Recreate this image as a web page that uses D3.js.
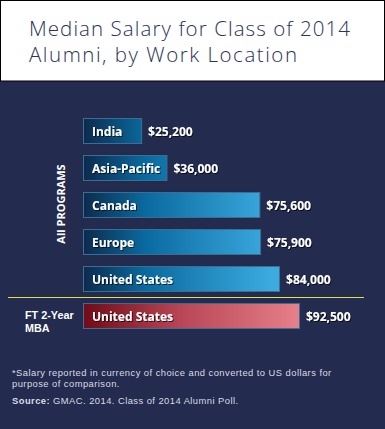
<!DOCTYPE html>
<html>
<head>
<meta charset="utf-8">
<script src="https://cdn.jsdelivr.net/npm/d3@7"></script>
<style>
  body { margin: 0; background: #232b4f; }
  svg { display: block; }
</style>
</head>
<body>
<div id="chart"></div>
<script>
const titleLines = ["Median Salary for Class of 2014", "Alumni, by Work Location"]
const regions = ["India", "Asia-Pacific", "Canada", "Europe", "United States", "United States"]
const salaries = [25200, 36000, 75600, 75900, 84000, 92500]
const groups = ["all", "all", "all", "all", "all", "mba"]
const groupLabelAll = "All PROGRAMS"
const groupLabelMba = ["FT 2-Year", "MBA"]
const notes = ["*Salary reported in currency of choice and converted to US dollars for", "purpose of comparison."]
const sourceText = ["Source:", " GMAC. 2014. Class of 2014 Alumni Poll."]

const w = 385
const h = 429
const x0 = 83

const svg = d3.select("#chart").append("svg")
    .attr("width", w)
    .attr("height", h)

const defs = svg.append("defs")

const blue = defs.append("linearGradient")
    .attr("id", "blueGrad")
    .attr("gradientUnits", "userSpaceOnUse")
    .attr("x1", x0).attr("x2", 272).attr("y1", 0).attr("y2", 0)
blue.append("stop").attr("offset", 0).attr("stop-color", "#0c2b4c")
blue.append("stop").attr("offset", 0.33).attr("stop-color", "#0a6a9f")
blue.append("stop").attr("offset", 1).attr("stop-color", "#3cabe0")

const red = defs.append("linearGradient")
    .attr("id", "redGrad")
    .attr("x1", 0).attr("x2", 1).attr("y1", 0).attr("y2", 0)
red.append("stop").attr("offset", 0).attr("stop-color", "#700b17")
red.append("stop").attr("offset", 0.45).attr("stop-color", "#b84656")
red.append("stop").attr("offset", 1).attr("stop-color", "#e6808a")

const shadow = defs.append("filter").attr("id", "shadow")
    .attr("x", "-10%").attr("y", "-30%").attr("width", "130%").attr("height", "170%")
shadow.append("feDropShadow")
    .attr("dx", 1).attr("dy", 1).attr("stdDeviation", 0.7)
    .attr("flood-color", "#000").attr("flood-opacity", 0.7)

// header
svg.append("rect")
    .attr("x", 0.5).attr("y", 0.5)
    .attr("width", w - 1).attr("height", 80.5)
    .attr("fill", "#fff")
    .attr("stroke", "#000")

const titleWidths = [321, 268]
svg.append("g").selectAll("text")
    .data(titleLines)
    .enter()
    .append("text")
    .attr("x", 29)
    .attr("y", (d, i) => 36 + i * 26)
    .attr("fill", "#2b3358")
    .attr("textLength", (d, i) => titleWidths[i])
    .style("font-family", "'Open Sans', sans-serif")
    .style("font-weight", 300)
    .style("font-size", "20.5px")
    .text(d => d)

const xScale = d3.scaleLinear()
    .domain([0, 92500])
    .range([x0, 300])

const yScale = d3.scaleBand()
    .domain(d3.range(regions.length))
    .range([112.5, 334.5])
    .paddingInner(0.297)
    .paddingOuter(0.1485)

const rows = svg.append("g").selectAll("g")
    .data(salaries)
    .enter()
    .append("g")

rows.append("rect")
    .attr("x", xScale(0) + 0.5)
    .attr("y", (d, i) => yScale(i) + 0.5)
    .attr("width", d => xScale(d) - xScale(0) - 1)
    .attr("height", yScale.bandwidth() - 1)
    .attr("fill", (d, i) => groups[i] == "mba" ? "url(#redGrad)" : "url(#blueGrad)")
    .attr("stroke", "#3e6f92")
    .attr("stroke-width", 1)

rows.append("text")
    .attr("x", xScale(0) + 9)
    .attr("y", (d, i) => yScale(i) + yScale.bandwidth() / 2 + 4.5)
    .attr("fill", "#fff")
    .attr("filter", "url(#shadow)")
    .style("font-family", "'Open Sans', sans-serif")
    .style("font-weight", 700)
    .style("font-size", "12px")
    .text((d, i) => regions[i])

rows.append("text")
    .attr("x", d => xScale(d) + 6)
    .attr("y", (d, i) => yScale(i) + yScale.bandwidth() / 2 + 4.5)
    .attr("fill", "#fff")
    .attr("filter", "url(#shadow)")
    .style("font-family", "'Open Sans', sans-serif")
    .style("font-weight", 700)
    .style("font-size", "12px")
    .text(d => "$" + d3.format(",")(d))

// divider between groups
const lineY = (yScale(4) + yScale.bandwidth() + yScale(5)) / 2
svg.append("line")
    .attr("x1", 8).attr("x2", 364)
    .attr("y1", lineY).attr("y2", lineY)
    .attr("stroke", "#e4e04a")
    .attr("stroke-width", 1)

svg.append("text")
    .attr("transform", "translate(65," + ((yScale(0) + yScale(4) + yScale.bandwidth()) / 2 - 1) + ") rotate(-90)")
    .attr("text-anchor", "middle")
    .attr("fill", "#fff")
    .style("font-family", "'Open Sans', sans-serif")
    .style("font-weight", 700)
    .style("font-size", "11px")
    .text(groupLabelAll)

svg.append("g").selectAll("text")
    .data(groupLabelMba)
    .enter()
    .append("text")
    .attr("x", 25)
    .attr("y", (d, i) => yScale(5) + 16.5 + i * 12.5)
    .attr("fill", "#fff")
    .style("font-family", "'Liberation Sans', Arial, sans-serif")
    .style("font-weight", 700)
    .style("font-size", "10.8px")
    .text(d => d)

// footnotes
svg.append("g").selectAll("text")
    .data(notes)
    .enter()
    .append("text")
    .attr("x", 12)
    .attr("y", (d, i) => 376 + i * 11)
    .attr("fill", "#d9dbe4")
    .style("font-family", "'Liberation Sans', Arial, sans-serif")
    .style("font-size", "9.4px")
    .style("letter-spacing", "0.45px")
    .text(d => d)

const src = svg.append("text")
    .attr("x", 12)
    .attr("y", 404)
    .attr("fill", "#d9dbe4")
    .style("font-family", "'Liberation Sans', Arial, sans-serif")
    .style("font-size", "9.4px")
    .style("letter-spacing", "0.45px")
src.append("tspan").style("font-weight", 700).text(sourceText[0])
src.append("tspan").text(sourceText[1])
</script>
</body>
</html>
